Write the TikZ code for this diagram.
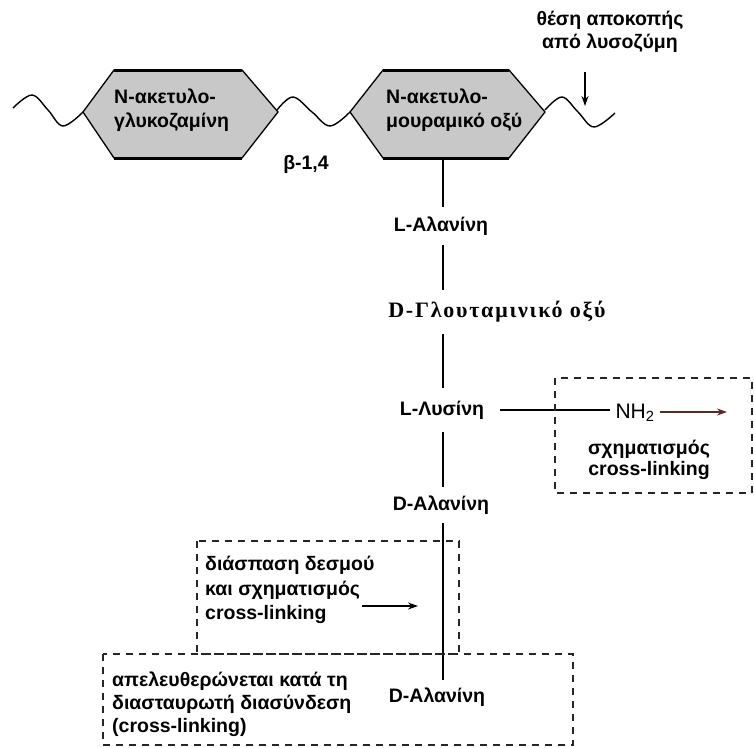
\documentclass[tikz,border=0pt]{standalone}
\usepackage{fontspec}
\setmainfont{Liberation Sans}
\newfontfamily\glufont[LetterSpace=8]{Liberation Serif}
\usetikzlibrary{arrows.meta}
\definecolor{hexgray}{RGB}{200,200,200}
\definecolor{arrowred}{RGB}{90,40,40}
\begin{document}
\begin{tikzpicture}[x=1pt,y=-1pt,
  lbl/.style={inner sep=0pt, font=\bfseries\fontsize{19.5}{24.5}\selectfont},
  chainnode/.style={lbl, minimum width=80pt},
  hexbox/.style={fill=hexgray, draw=black, line width=1.3pt, line join=miter},
  hexedge/.style={line width=3pt},
  wave/.style={line width=1.4pt},
  bond/.style={line width=1.5pt},
  dashbox/.style={draw=black!85, line width=1.6pt, dash pattern=on 7pt off 6pt},
  tip/.style={-{Stealth[length=10pt,width=7pt]}, line width=1.2pt}]
\useasboundingbox (0,0) rectangle (754,747);

% waves
\draw[wave] plot[smooth, tension=0.6] coordinates {(13,108) (32,95) (48,110) (63,126) (83,112)};
\draw[wave] plot[smooth, tension=0.6] coordinates {(277,110) (293,97) (312,112) (330,126) (350,112)};
\draw[wave] plot[smooth, tension=0.6] coordinates {(545,110) (562,97) (578,112) (594,127) (615,113)};

% hexagons
\coordinate (h1tl) at (114,70); \coordinate (h1tr) at (242,70);
\coordinate (h1bl) at (114,158); \coordinate (h1br) at (242,158);
\draw[hexbox] (83,112) -- (h1tl) -- (h1tr) -- (278,112) -- (h1br) -- (h1bl) -- cycle;
\draw[hexedge] (h1tl) -- (h1tr); \draw[hexedge] (h1bl) -- (h1br);
\coordinate (h2tl) at (383,70); \coordinate (h2tr) at (509,70);
\coordinate (h2bl) at (383,158); \coordinate (h2br) at (509,158);
\draw[hexbox] (350,112) -- (h2tl) -- (h2tr) -- (545,112) -- (h2br) -- (h2bl) -- cycle;
\draw[hexedge] (h2tl) -- (h2tr); \draw[hexedge] (h2bl) -- (h2br);
\coordinate (h2b) at (443,158);

\node[lbl, anchor=west, align=left] (nag) at (114,110) {N-ακετυλο-\\γλυκοζαμίνη};
\node[lbl, anchor=west, align=left] (nam) at (386,110) {N-ακετυλο-\\μουραμικό οξύ};
\node[lbl] (beta) at (306,164) {β-1,4};

% lysozyme cut
\node[lbl, align=center, font=\bfseries\fontsize{19.5}{23}\selectfont] (lyso) at (610,32) {θέση αποκοπής\\από λυσοζύμη};
\coordinate (cutA) at (585,72); \coordinate (cutB) at (585,106);
\draw[-{Stealth[length=10pt,width=7pt]}, line width=1.3pt] (cutA) -- (cutB);

% peptide chain
\node[chainnode, minimum height=38pt] (lala) at (441,226) {L-Αλανίνη};
\node[inner sep=0pt, minimum height=44pt, font=\glufont\bfseries\fontsize{22}{26}\selectfont] (dglu) at (497,312) {D-Γλουταμινικό οξύ};
\node[lbl, minimum height=44pt, inner xsep=16pt] (llys) at (442,410) {L-Λυσίνη};
\node[chainnode, minimum height=36pt] (dala1) at (441,505) {D-Αλανίνη};
\node[chainnode, minimum height=34pt] (dala2) at (437,697) {D-Αλανίνη};

\draw[bond] (h2b) -- (h2b |- lala.north);
\draw[bond] (h2b |- lala.south) -- (h2b |- dglu.north);
\draw[bond] (h2b |- dglu.south) -- (h2b |- llys.north);
\draw[bond] (h2b |- llys.south) -- (h2b |- dala1.north);
\draw[bond] (h2b |- dala1.south) -- (h2b |- dala2.north);

% cross-link branch
\node[inner sep=0pt, inner xsep=5pt, font=\fontsize{21}{24}\selectfont] (nh2) at (635,413) {NH\textsubscript{2}};
\draw[bond] (llys.east) -- (nh2.west |- llys.east);
\coordinate (nhtip) at (727,412);
\draw[tip, draw=arrowred] (nh2.east |- nhtip) -- (nhtip);
\node[lbl, align=center, font=\bfseries\fontsize{19.5}{21}\selectfont] (sxcl) at (649,460) {σχηματισμός\\cross-linking};
\draw[dashbox] (555,378) rectangle (752,493);

% middle box
\draw[dashbox] (197,541) rectangle (459,654);
\node[lbl, anchor=west, align=left] (diasp) at (205,590) {διάσπαση δεσμού\\και σχηματισμός\\cross-linking};
\coordinate (mA) at (362,606); \coordinate (mB) at (418,606);
\draw[tip] (mA) -- (mB);

% bottom box
\draw[dashbox] (103,654) rectangle (573,745);
\node[lbl, anchor=west, align=left, font=\bfseries\fontsize{19.5}{23}\selectfont] (apel) at (112,704) {απελευθερώνεται κατά τη\\διασταυρωτή διασύνδεση\\(cross-linking)};
\end{tikzpicture}
\end{document}
